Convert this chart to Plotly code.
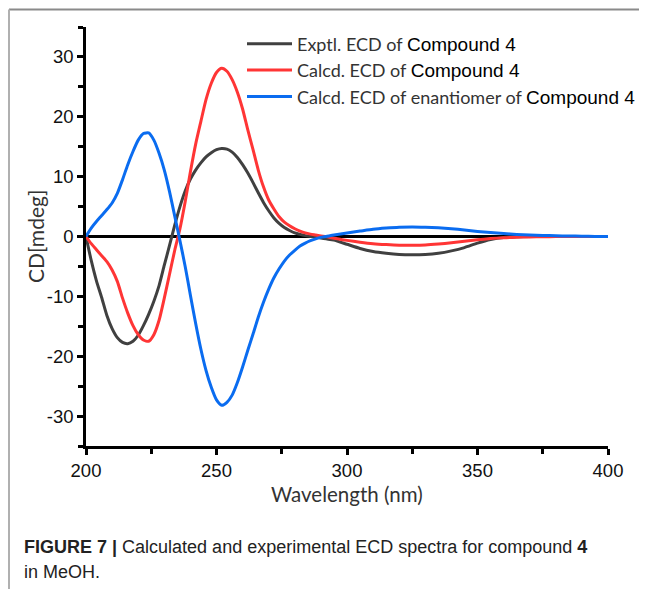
import plotly.graph_objects as go

wavelength = list(range(200, 293, 2)) + list(range(295, 401, 5))

exptl_cd = [
    0, -4.0, -7.4, -10.2, -13.2, -15.4, -16.9, -17.7, -17.9, -17.5,
    -16.5, -14.9, -13.0, -10.8, -8.2, -4.8, -1.5, 1.9, 5.0, 7.6,
    9.6, 11.1, 12.3, 13.3, 14.0, 14.5, 14.7, 14.6, 14.1, 13.2,
    12.0, 10.6, 9.0, 7.3, 5.7, 4.3, 3.1, 2.2, 1.5, 1.0,
    0.6, 0.35, 0.15, 0.0, -0.1, -0.25, -0.4,
    -0.6, -1.3, -2.0, -2.5, -2.8, -3.0, -3.05, -3.0, -2.8, -2.4,
    -1.85, -1.1, -0.5, -0.15, -0.03, 0, 0, 0, 0, 0, 0, 0,
]

calcd_cd = [
    0, -1.2, -2.2, -3.2, -4.2, -5.6, -7.5, -10.3, -12.8, -14.9,
    -16.4, -17.3, -17.5, -16.4, -14.0, -10.3, -6.3, -2.3, 1.3, 5.8,
    10.8, 15.4, 19.2, 22.9, 25.6, 27.4, 28.1, 27.6, 26.2, 24.1,
    21.3, 17.8, 14.5, 11.1, 8.3, 6.1, 4.6, 3.3, 2.4, 1.8,
    1.3, 0.9, 0.6, 0.4, 0.25, 0.1, 0.0,
    -0.3, -0.65, -0.95, -1.2, -1.35, -1.45, -1.45, -1.4, -1.25, -1.05,
    -0.8, -0.55, -0.35, -0.2, -0.12, -0.07, -0.04, -0.02, 0, 0, 0, 0,
]

enantiomer_cd = [
    0, 1.4, 2.5, 3.5, 4.5, 5.6, 7.2, 9.5, 12.0, 14.2,
    16.1, 17.2, 17.3, 16.1, 13.9, 11.1, 7.5, 3.4, -0.7, -5.0,
    -9.8, -14.5, -18.8, -22.4, -25.2, -27.3, -28.2, -27.7, -26.5, -24.4,
    -21.8, -19.0, -16.3, -13.5, -11.0, -8.8, -6.9, -5.4, -4.1, -3.1,
    -2.3, -1.6, -1.1, -0.7, -0.4, -0.15, 0.0,
    0.25, 0.6, 0.9, 1.2, 1.4, 1.55, 1.6, 1.55, 1.45, 1.3,
    1.1, 0.85, 0.65, 0.5, 0.35, 0.25, 0.18, 0.12, 0.08, 0.05, 0.02, 0,
]

x_tick_vals = [200, 250, 300, 350, 400]
x_tick_text = ["200", "250", "300", "350", "400"]
y_tick_vals = [30, 20, 10, 0, -10, -20, -30]
y_tick_text = ["30", "20", "10", "0", "-10", "-20", "-30"]

CMP = '<span style="font-family:\'Liberation Sans\', Arial, sans-serif;font-size:19px;fill:#000">Compound 4</span>'
series_names = [
    "Exptl. ECD of " + CMP,
    "Calcd. ECD of " + CMP,
    "Calcd. ECD of enantiomer of " + CMP,
]
series_colors = ["#404040", "#ff3535", "#0a6cf0"]

CAL = "Lato, Open Sans, sans-serif"
ARI = "Liberation Sans, Arial, sans-serif"

# screen-pixel helpers (page body has an 8px margin; plot area spans x 86..608, y 26.5..446.5)
def px(x):
    return (x - 86) / 522

def py(y):
    return (446.5 - y) / 420

fig = go.Figure()
for ys, nm, col in zip([exptl_cd, calcd_cd, enantiomer_cd], series_names, series_colors):
    fig.add_trace(go.Scatter(
        x=wavelength, y=ys, mode="lines", name=nm,
        line=dict(color=col, width=3, shape="spline", smoothing=0.6),
    ))

fig.update_layout(
    width=639, height=581,
    margin=dict(l=78, r=39, t=18.5, b=142.5, autoexpand=False),
    paper_bgcolor="white", plot_bgcolor="white",
    showlegend=True,
    legend=dict(
        x=px(242), y=py(25), xanchor="left", yanchor="top",
        font=dict(family=CAL, size=18, color="#333"),
        bgcolor="rgba(0,0,0,0)", tracegroupgap=0, itemwidth=45,
    ),
    xaxis=dict(
        range=[200, 400], tickvals=x_tick_vals, ticktext=x_tick_text,
        showline=True, linecolor="black", linewidth=2.5,
        ticks="outside", ticklen=6, tickwidth=2.5, tickcolor="black",
        minor=dict(ticks="outside", dtick=25, tick0=200, ticklen=5, tickwidth=2.5, tickcolor="black"),
        showgrid=False, zeroline=False,
        tickfont=dict(family=ARI, size=18.5, color="#111"),
    ),
    yaxis=dict(
        range=[-35, 35], tickvals=y_tick_vals, ticktext=y_tick_text,
        showline=True, linecolor="black", linewidth=2.5,
        ticks="outside", ticklen=6, tickwidth=2.5, tickcolor="black",
        minor=dict(ticks="outside", dtick=5, tick0=0, ticklen=5, tickwidth=2.5, tickcolor="black"),
        showgrid=False, zeroline=True, zerolinecolor="black", zerolinewidth=2.5,
        tickfont=dict(family=ARI, size=18.5, color="#111"),
    ),
    shapes=[
        dict(type="line", xref="paper", yref="paper",
             x0=px(9), x1=px(700), y0=py(9), y1=py(9),
             line=dict(color="#8a8a8a", width=2)),
        dict(type="line", xref="paper", yref="paper",
             x0=px(9), x1=px(9), y0=py(9), y1=py(640),
             line=dict(color="#b0b0b0", width=2)),
    ],
    annotations=[
        dict(text="Wavelength (nm)", xref="paper", yref="paper",
             x=0.5, y=py(495), xanchor="center", yanchor="middle",
             showarrow=False, font=dict(family=CAL, size=20.5, color="#333")),
        dict(text="CD[mdeg]", xref="paper", yref="paper",
             x=px(36), y=py(237), xanchor="center", yanchor="middle",
             textangle=-90, showarrow=False, font=dict(family=CAL, size=21, color="#333")),
        dict(text="<b>FIGURE 7 |</b> Calculated and experimental ECD spectra for compound <b>4</b>",
             xref="paper", yref="paper", align="left",
             x=px(22), y=py(548), xanchor="left", yanchor="middle",
             showarrow=False, font=dict(family=ARI, size=18, color="#222")),
        dict(text="in MeOH.",
             xref="paper", yref="paper", align="left",
             x=px(22), y=py(573), xanchor="left", yanchor="middle",
             showarrow=False, font=dict(family=ARI, size=18, color="#222")),
    ],
)

fig.write_html("out.html")
